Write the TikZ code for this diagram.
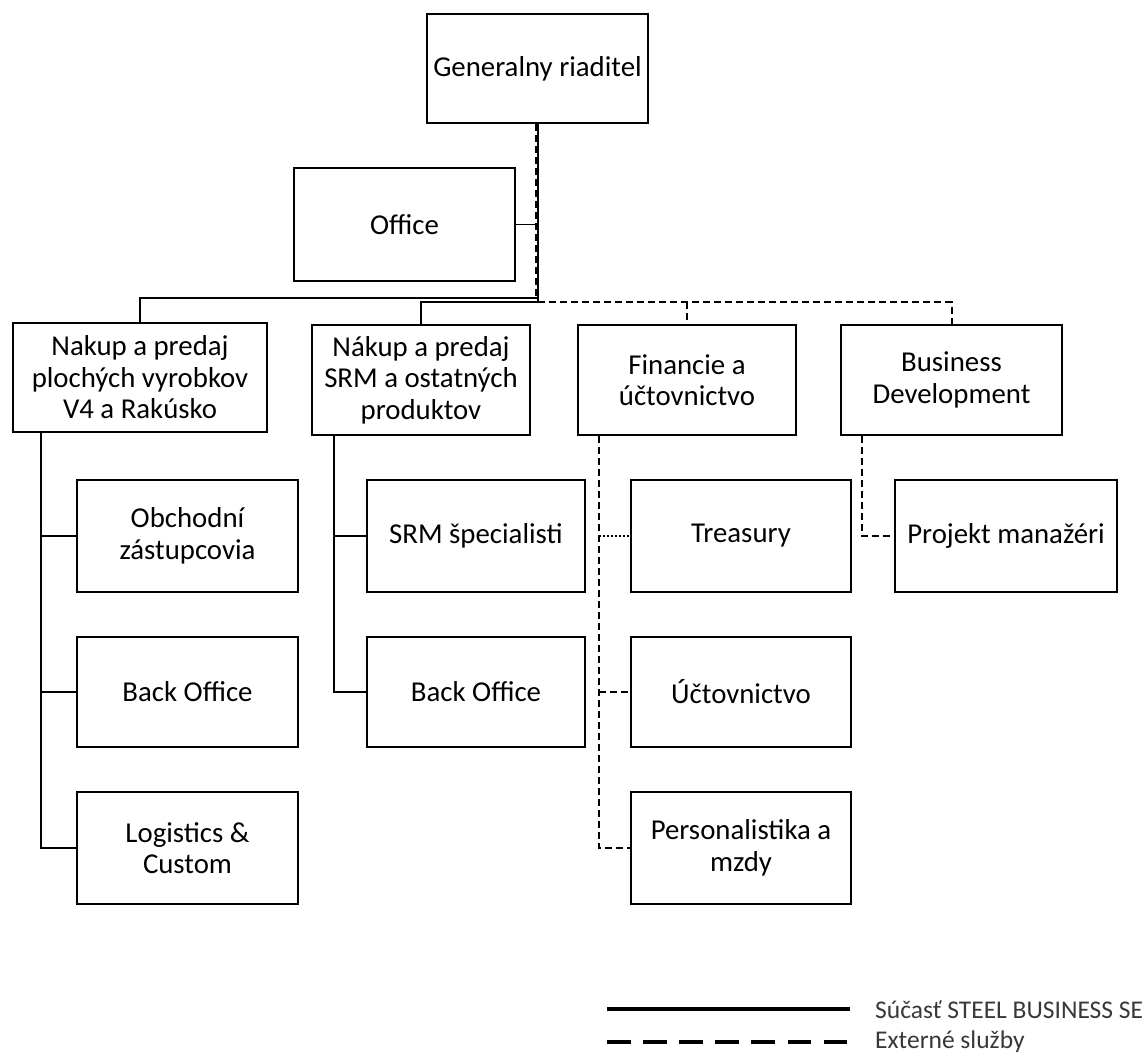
\documentclass[tikz,border=0pt]{standalone}
\usepackage{fontspec}
\setmainfont{Carlito}
\newcommand\boxfont{\fontsize{28.8}{31.5}\selectfont}
\newcommand\legfont{\fontsize{25.5}{28}\selectfont}
\begin{document}
\begin{tikzpicture}[x=1pt,y=-1pt,
  box/.style={draw=black, line width=2.2pt, fill=white, align=center, inner sep=2pt,
              font=\boxfont, text=black},
  conn/.style={draw=black, line width=2pt},
  trunk/.style={draw=black, line width=2.6pt},
  dashc/.style={draw=black, line width=2pt, dash pattern=on 7pt off 4pt},
  dotc/.style={draw=black, line width=1.3pt, dash pattern=on 2pt off 2pt},
  legtext/.style={anchor=base west, font=\legfont, text=black!78, inner sep=0pt}]
\useasboundingbox (0,0) rectangle (1143,1055);

% boxes
\node[box, minimum width=221pt, minimum height=109pt] (gr) at (537.5,68.5) {Generalny riaditel};
\node[box, minimum width=221pt, minimum height=113pt] (office) at (404.5,224.5) {Office};
\node[box, minimum width=254pt, minimum height=109pt] (A) at (140,377.5) {Nakup a predaj\\plochých vyrobkov\\V4 a Rakúsko};
\node[box, minimum width=218pt, minimum height=110pt] (B) at (421,380) {Nákup a predaj\\SRM a ostatných\\produktov};
\node[box, minimum width=218pt, minimum height=110pt] (fin) at (687,380) {Financie a\\účtovnictvo};
\node[box, minimum width=221pt, minimum height=110pt] (bd) at (951.5,380) {Business\\Development};
\node[box, minimum width=221pt, minimum height=112pt] (obch) at (187.5,536) {Obchodní\\zástupcovia};
\node[box, minimum width=218pt, minimum height=112pt] (srm) at (476,536) {SRM špecialisti};
\node[box, minimum width=220pt, minimum height=112pt] (treas) at (741,536) {Treasury};
\node[box, minimum width=222pt, minimum height=112pt] (proj) at (1006,536) {Projekt manažéri};
\node[box, minimum width=221pt, minimum height=110pt] (bo1) at (187.5,692) {Back Office};
\node[box, minimum width=218pt, minimum height=110pt] (bo2) at (476,692) {Back Office};
\node[box, minimum width=220pt, minimum height=110pt] (uct) at (741,692) {Účtovnictvo};
\node[box, minimum width=221pt, minimum height=112pt] (log) at (187.5,848) {Logistics \&\\Custom};
\node[box, minimum width=220pt, minimum height=112pt] (pers) at (741,848) {Personalistika a\\mzdy};

% junction coordinates
\coordinate (jt) at (538,301);
\coordinate (jd) at (535.5,300);
\coordinate (busA) at (538,298);
\coordinate (busB) at (538,302);
\coordinate (ax) at (41,0);
\coordinate (bx) at (334,0);
\coordinate (fx) at (599,0);
\coordinate (dx) at (862,0);

% top trunk (solid + external dashed)
\draw[trunk] (gr.south -| jt) -- (jt);
\draw[dashc] (gr.south -| jd) -- (jd);
\draw[conn, line width=1.6pt] (office.east) -- (office.east -| jt);

% main bus
\draw[conn] (busA) -| (A.north);
\draw[conn] (busB) -| (B.north);
\draw[dashc] (busB) -| (bd.north);
\draw[dashc] (fin.north |- busB) -- (fin.north);

% Nakup a predaj plochych
\draw[conn] (A.south -| ax) |- (log.west);
\draw[conn] (obch.west -| ax) -- (obch.west);
\draw[conn] (bo1.west -| ax) -- (bo1.west);

% Nakup SRM
\draw[conn] (B.south -| bx) |- (bo2.west);
\draw[conn] (srm.west -| bx) -- (srm.west);

% Financie
\draw[dashc] (fin.south -| fx) |- (pers.west);
\draw[dotc] (treas.west -| fx) -- (treas.west);
\draw[dashc] (uct.west -| fx) -- (uct.west);

% Business development
\draw[dashc] (bd.south -| dx) |- (proj.west);

% legend
\coordinate (l1a) at (607,1009);
\coordinate (l1b) at (850,1009);
\coordinate (l2a) at (607,1042);
\coordinate (l2b) at (850,1042);
\draw[line width=4pt] (l1a) -- (l1b);
\draw[line width=4pt, dash pattern=on 23.5pt off 12.6pt] (l2a) -- (l2b);
\node[legtext] (lt1) at (875,1018) {Súčasť STEEL BUSINESS SE};
\node[legtext] (lt2) at (875,1048) {Externé služby};
\end{tikzpicture}
\end{document}
